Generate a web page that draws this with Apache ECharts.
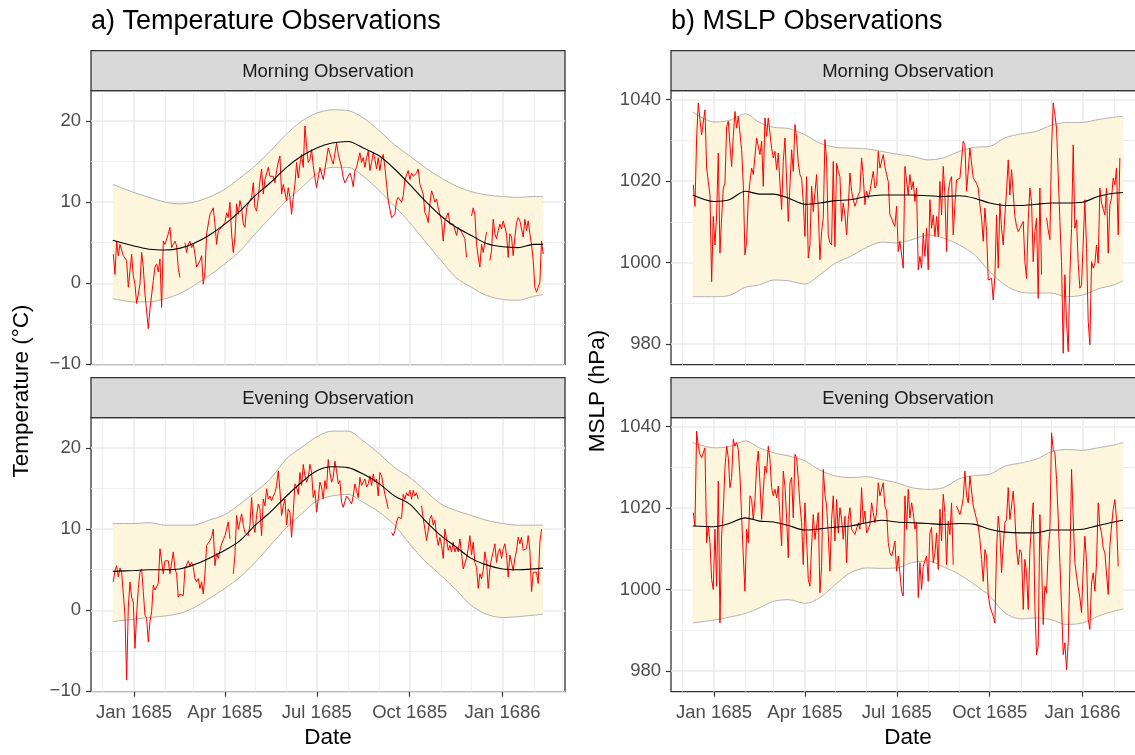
<!DOCTYPE html>
<html>
<head>
<meta charset="utf-8">
<title>Temperature and MSLP observations 1684-1686</title>
<script src="https://cdn.jsdelivr.net/npm/echarts@6/dist/echarts.min.js"></script>
<style>
  html, body { margin: 0; padding: 0; background: #fff; }
  #main { width: 1135px; height: 755px; }
</style>
</head>
<body>
<div id="main"></div>
<script>
// observations: one value every obsStepDays starting at obsStart (null = missing)
const obsStart = '1684-12-11T12:00:00Z';
const obsStepDays = 1.65;

const tempMorning = [
  3.6, 1.1, 5.2, 3.4, 4.8, 4.6, 3.4, 3.6, 2.8, -0.5,
  -0.7, 3.6, 0.9, -0.1, -2.5, -2.7, -0.1, 3.8, 2.0, -1.3,
  -1.5, -5.6, -3.2, -3.0, 0.3, 2.0, 2.4, 1.4, 3.0, -3.0,
  5.2, 4.8, 4.9, 6.1, 6.9, 4.4, 4.8, 5.2, 4.6, 1.8,
  0.7, null, null, 5.0, 3.8, 4.8, 5.2, 4.4, 4.8, 3.6,
  2.0, 1.8, 2.8, 3.4, -0.1, 1.4, 6.1, 6.1, 8.5, 8.9,
  9.3, 7.3, 4.8, 6.5, 6.7, 6.9, 6.7, 7.5, 8.7, 8.1,
  10.0, 6.1, 3.8, 5.7, 9.8, 8.5, 10.2, 9.3, 7.3, 6.9,
  9.3, 9.8, 10.0, 10.6, 12.4, 9.3, 8.9, 10.6, 12.6, 14.1,
  11.0, 12.8, 12.6, 14.3, 13.2, 13.0, 13.2, 12.4, 13.9, 14.9,
  15.7, 11.0, 12.2, 12.0, 10.2, 11.8, 10.6, 8.5, 10.6, 12.2,
  14.9, 13.0, 14.7, 15.9, 14.3, 19.4, 16.9, 14.9, 15.3, 16.5,
  14.5, 13.0, 11.8, 11.6, 14.3, 14.3, 12.8, 14.1, 14.3, 16.7,
  16.9, 15.3, 14.7, 14.5, 17.3, 15.9, 15.7, 14.3, 13.0, 12.4,
  12.2, 13.2, 13.6, 13.0, 11.9, 13.9, 14.3, 14.1, 16.1, 14.9,
  15.5, 14.3, 15.5, 16.3, 13.9, 14.9, 16.1, 15.3, 14.1, 15.5,
  13.9, 15.3, 15.9, 14.3, 12.2, 10.2, 10.0, 8.1, 8.0, 8.5,
  10.2, 10.6, 10.8, 10.0, 10.8, 12.8, 13.0, 13.9, 12.8, 13.6,
  13.2, 13.2, 13.6, 14.1, 12.2, 12.2, 11.0, 8.7, 8.3, 7.5,
  9.8, 11.4, 10.8, 10.0, 10.4, 9.3, 8.5, 7.7, 5.2, 7.7,
  7.7, 8.7, 7.3, 7.5, 7.3, 7.1, 5.9, 6.9, 6.9, 6.3,
  6.1, 5.5, 3.2, null, null, 8.3, 9.3, 8.5, 4.8, 3.2,
  2.0, 4.8, 3.8, 3.8, 6.3, null, 2.8, 4.0, 7.9, 6.1,
  5.5, 6.5, 7.3, 6.7, 7.7, 7.5, 6.1, 3.2, 6.1, 5.7,
  3.4, 5.7, 7.5, 8.1, 7.7, 7.9, 5.7, 7.9, 6.5, 7.7,
  6.1, 4.8, 2.8, -0.5, -1.1, -0.5, 0.1, 5.2, 3.6
];

const tempEvening = [
  3.5, 4.9, 5.5, 4.1, 5.2, 4.7, 4.7, -0.6, -8.6, 0.4,
  3.5, 1.6, 1.0, -4.7, -0.6, 2.7, 4.7, 5.1, 2.3, -0.6,
  -1.0, -3.9, -1.4, -0.2, 3.1, 2.5, 2.3, 3.3, 7.6, 7.4,
  4.5, 6.1, 5.9, 6.1, 4.5, 4.7, 7.2, 5.1, 4.5, 1.6,
  2.0, 1.8, 1.8, 5.1, 5.3, 6.1, 5.5, 5.9, 5.3, 3.9,
  3.5, 3.9, 2.7, 3.5, 2.0, 4.5, 8.0, 8.2, 8.6, 9.0,
  10.0, 5.5, 7.0, 6.4, 7.4, 8.2, 8.0, 9.2, 9.4, 10.9,
  8.8, null, 4.5, 6.8, 11.7, 10.0, 10.9, 11.9, 10.5, 9.6,
  9.8, 9.2, 10.5, 13.9, 10.5, 9.6, 11.7, 13.1, 12.5, 9.2,
  13.7, 12.9, 15.0, 13.7, 14.1, 13.5, 14.1, 14.5, 15.4, 17.2,
  14.8, 11.7, 12.9, 13.7, 10.5, 12.5, 12.1, 9.0, 12.1, 15.6,
  15.2, 14.3, 17.0, 15.4, 18.0, 16.6, 15.8, 16.4, 18.0, 17.0,
  13.9, 14.8, 12.1, 13.7, 15.8, 15.2, 13.7, 16.0, 15.0, 18.6,
  17.0, 15.8, 16.4, 18.4, 17.2, 15.6, 16.0, 13.3, 12.7, 12.9,
  14.1, 14.3, 13.5, 13.1, 14.1, 15.6, 14.8, 13.9, 16.4, 15.4,
  15.4, 16.2, 15.2, 15.6, 16.6, 15.4, 16.8, 15.8, 16.2, 14.1,
  17.0, 16.6, 15.4, 14.3, 13.5, 12.5, null, 9.6, 9.2, 9.8,
  10.9, 11.5, 11.7, 11.3, 14.3, 13.7, 14.5, 14.1, 14.8, 13.7,
  14.8, 14.1, 14.5, 13.7, null, 12.9, 11.3, 10.0, 8.6, 9.8,
  11.3, 11.7, 10.5, 11.1, 9.2, 8.0, 9.0, 8.0, 6.4, 10.0,
  8.8, 7.4, 8.0, 7.2, 8.4, 7.2, 7.8, 7.2, 8.8, 7.0,
  5.1, 4.9, 6.4, 7.6, 9.2, 6.8, 8.4, 5.9, 5.3, 2.7,
  4.5, 3.9, 4.9, 7.2, 5.9, 2.7, 5.1, 6.4, 7.2, 8.2,
  5.9, 7.2, 7.6, 6.4, 7.6, 8.2, 6.8, 4.1, 6.8, 5.9,
  4.9, 6.4, 7.4, 9.0, 8.2, 9.0, 7.4, 7.4, 7.6, 9.2,
  7.4, 2.3, 4.7, 4.7, 4.7, 3.3, 8.4, 10.0
];

const mslpMorning = [
  1019.1, 1013.8, 1030.6, 1039.2, 1035.1, 1031.4, 1031.4, 1037.5, 1023.2, 1019.9,
  1016.6, 995.3, 1011.3, 1004.3, 1011.7, 1026.9, 1002.3, 1010.9, 1018.3, 1019.5,
  1033.4, 1034.7, 1028.9, 1023.6, 1031.0, 1037.1, 1033.0, 1035.9, 1035.5, 1027.7,
  1019.1, 1001.9, 1005.2, 1015.8, 1019.9, 1023.2, 1021.6, 1022.0, 1030.6, 1031.0,
  1026.5, 1029.8, 1018.7, 1035.5, 1031.0, 1035.5, 1031.8, 1028.1, 1025.7, 1027.3,
  1022.8, 1026.9, 1019.5, 1013.0, 1024.8, 1030.6, 1020.3, 1010.1, 1010.5, 1027.7,
  1022.4, 1033.9, 1030.6, 1024.4, 1021.6, 1020.7, 1015.0, 1006.4, 1021.1, 1001.1,
  1004.3, 1018.7, 1012.5, 1012.5, 1021.6, 1013.0, 1000.7, 1007.6, 1010.9, 1030.2,
  1025.2, 1006.8, 1004.8, 1004.3, 1024.8, 1003.9, 1024.4, 1022.4, 1021.1, 1010.1,
  1014.6, 1011.7, 1006.8, 1013.4, 1022.0, 1017.5, 1015.4, 1013.8, 1015.0, 1016.6,
  1017.5, 1025.7, 1021.1, 1014.2, 1017.5, 1015.8, 1017.5, 1017.9, 1022.4, 1018.3,
  1019.1, 1027.3, 1023.2, 1023.2, 1026.5, 1023.6, 1021.6, 1019.9, 1011.7, 1010.9,
  1009.7, 1008.9, 1013.8, 1002.7, 1005.2, 1005.6, 998.6,
  1023.6, 1023.2, 1016.6, 1021.6, 1017.9, 1019.9, 1015.0, 1018.3, 998.2, 1001.5,
  998.6, 1007.2, 1001.5, 1008.4, 998.2, 1015.4, 1008.4, 1011.7, 1006.4, 1011.3,
  1006.4, 1019.9, 1011.7, 1023.6, 1016.6, 1002.7, 1017.5, 1019.9, 1021.1, 1006.8,
  1014.2, 1020.3, 1019.9, 1020.7, 1020.7, 1029.8, 1028.9, 1017.5, 1022.4, 1028.1,
  1028.1, 1020.7, 1020.7, 1019.5, 1018.3, 1014.2, 1010.9, 1005.2, 1013.4, 1007.6,
  995.7, 995.3, 996.1, 990.8, 996.6, 1011.7, 998.6, 1014.6, 1008.4, 1004.3,
  1011.7, 1017.5, 1025.2, 1016.6, 1022.8, 1022.8, 1011.3, 1008.9, 1007.6, 1008.4,
  1008.0, 1010.1, 1000.2, 996.1, 1010.5, 1018.3, 1015.0, 1000.2, 1007.6, 1010.9,
  991.2, 1018.3, 997.0, null, null, 1010.9, 1008.0, 1005.6, 1028.1, 1039.2,
  1036.3, 1033.0, 1021.6, 1010.1, 1000.2, 977.7, 997.0, 985.5, 978.1, 997.0,
  1008.4, 1028.9, 1008.4, 1010.5, 999.8, 993.7, 994.5, 994.5, 1015.4, 1003.5,
  985.5, 979.8, 1000.2, 998.6, 999.8, 1004.3, 999.8, 1018.3, 1014.6, 1015.0,
  1011.7, 1018.3, 1002.3, 1014.2, 1015.8, 1020.7, 1019.1, 1023.2, 1006.8, 1025.7
];

const mslpEvening = [
  1018.9, 1015.6, 1038.9, 1035.2, 1033.2, 1032.4, 1032.8, 1034.8, 1011.5, 1015.6,
  1011.5, 1002.5, 1000.0, 1014.8, 1000.8, 1026.6, 991.8, 1013.5, 1019.3, 1029.9,
  1035.2, 1032.4, 1025.0, 1027.5, 1036.9, 1035.2, 1036.1, 1034.4, 1027.9, 1018.0,
  1008.2, 999.6, 1014.8, 1011.5, 1023.0, 1022.1, 1017.2, 1022.1, 1030.3, 1034.0,
  1026.2, 1017.2, 1024.2, 1030.3, 1028.7, 1035.2, 1032.0, 1025.0, 1023.0, 1024.6,
  1022.5, 1025.4, 1018.0, 1010.7, 1029.1, 1025.4, 1017.6, 1007.8, 1026.2, 1027.5,
  1017.6, 1033.2, 1032.4, 1027.0, 1020.9, 1016.4, 1006.1, 1021.3, 1012.3, 1002.5,
  1000.8, 1010.7, 1018.4, 1012.3, 1015.6, 1018.9, 999.2, 1005.7, 1029.5, 1023.4,
  1020.5, 1013.5, 1004.5, 1017.2, 1023.0, 1011.9, 1022.1, 1013.9, 1020.1, 1017.2,
  1012.3, 1018.0, 1006.6, 1017.2, 1020.1, 1014.8, 1014.8, 1013.5, 1013.9, 1016.4,
  1014.8, 1025.0, 1016.4, 1019.3, 1013.9, 1014.8, 1016.0, 1021.3, 1018.9, 1016.4,
  1018.9, 1026.2, 1023.0, 1023.0, 1026.2, 1020.5, 1019.3, 1011.5, 1009.0, 1008.2,
  1009.8, 1011.9, 1004.5, 1008.2, 1004.1, 999.6, 998.4,
  1023.0, 1014.8, 1024.6, 1017.6, 1021.3, 1018.9, 1014.8, 1016.4, 998.0, 1006.6,
  1000.0, 1005.7, 1005.3, 1008.2, 1002.0, 1013.9, 1015.2, 1006.6, 1009.0, 1013.9,
  1004.9, 1019.7, 1011.9, 1023.4, 1018.9, 1006.1, 1016.8, 1013.5, 1021.3, 1006.1,
  null, 1020.5, 1020.7, 1018.4, 1020.1, 1022.5, 1029.1, 1023.0, 1021.3, 1027.9,
  1027.9, 1020.5, 1018.9, 1017.2, 1015.6, 1012.3, 1007.4, 1002.0, 1009.8, 1008.2,
  998.8, 995.9, 996.3, 993.4, 991.8, 1009.8, 1018.0, 1013.9, 1004.1, 1010.7,
  1016.4, 1017.2, 1025.0, 1017.2, 1020.5, 1024.2, 1018.0, 1009.8, 1006.1, 1009.8,
  1009.0, 995.1, 1007.4, 1004.1, 995.1, 1009.8, 1016.0, 1021.3, 995.9, 984.0,
  986.1, 1018.4, 1006.6, 991.4, 1000.8, 999.2, 1009.8, 1014.3, 1038.5, 1034.4,
  1033.6, 1027.0, 1017.6, 1006.6, 995.9, 984.0, 986.9, 980.3, 986.9, 1005.7,
  1029.5, 1017.6, 1006.6, 1003.3, 1000.4, 998.0, 994.3, 1004.9, 1013.1, 1006.6,
  992.6, 990.2, 1001.6, 1004.1, 999.6, 1006.6, 1021.3, 1015.6, 1013.9, 1010.2,
  1009.0, 1009.4, 998.8, 1010.7, 1015.6, 1019.7, 1022.1, 1017.2, 1005.7
];

// climatology: fitted mean with lower / upper bound
const bandDates = [
  '1684-12-11', '1685-01-01', '1685-01-16', '1685-02-01', '1685-02-15', '1685-03-01',
  '1685-03-16', '1685-04-01', '1685-04-16', '1685-05-01', '1685-05-16', '1685-06-01',
  '1685-06-16', '1685-07-01', '1685-07-16', '1685-08-01', '1685-08-16', '1685-09-01',
  '1685-09-16', '1685-10-01', '1685-10-16', '1685-11-01', '1685-11-16', '1685-12-01',
  '1685-12-16', '1686-01-01', '1686-01-16', '1686-02-01', '1686-02-10'
];

const tempMorningFit = [5.3, 4.6, 4.2, 4.1, 4.3, 4.9, 5.9, 7.3, 8.9, 10.8, 12.4, 14.3, 15.7, 16.7, 17.3, 17.5, 16.7, 15.7, 14.1, 12.2, 10.2, 8.3, 6.9, 5.9, 4.9, 4.5, 4.4, 4.8, 4.8];
const tempMorningLow = [-1.9, -2.3, -2.3, -1.9, -1.3, -0.3, 0.9, 2.4, 4.0, 6.1, 8.1, 10.2, 11.8, 13.5, 14.3, 14.3, 13.2, 11.4, 9.5, 7.5, 5.2, 2.8, 0.7, -0.5, -1.5, -2.0, -2.1, -1.6, -1.4];
const tempMorningHigh = [12.2, 11.2, 10.6, 10.0, 9.8, 10.0, 10.6, 11.6, 13.0, 14.5, 16.3, 18.4, 20.0, 21.0, 21.4, 21.3, 20.4, 18.8, 17.1, 15.7, 14.3, 13.0, 12.0, 11.3, 10.9, 10.7, 10.6, 10.7, 10.7];

const tempEveningFit = [4.8, 4.9, 5.0, 5.0, 5.1, 5.6, 6.4, 7.4, 8.6, 10.5, 12.1, 14.1, 15.8, 17.2, 17.7, 17.6, 16.8, 15.6, 14.1, 13.1, 11.1, 9.2, 7.8, 6.4, 5.6, 5.1, 5.0, 5.1, 5.2];
const tempEveningLow = [-1.4, -1.1, -0.9, -0.7, -0.4, 0.3, 1.4, 2.7, 4.1, 5.9, 8.0, 10.2, 11.9, 13.5, 14.1, 14.3, 13.3, 12.1, 10.5, 8.2, 6.1, 4.3, 2.5, 0.6, -0.5, -0.9, -0.8, -0.6, -0.5];
const tempEveningHigh = [10.7, 10.7, 10.8, 10.5, 10.5, 10.5, 11.1, 11.8, 13.1, 14.6, 16.2, 18.7, 20.1, 21.4, 22.1, 22.1, 20.9, 19.3, 17.6, 16.4, 14.8, 13.1, 12.3, 11.7, 11.1, 10.7, 10.5, 10.5, 10.5];

const mslpMorningFit = [1016.6, 1015.0, 1015.4, 1017.5, 1016.8, 1016.8, 1015.8, 1014.3, 1014.6, 1015.2, 1015.4, 1016.2, 1016.6, 1016.6, 1016.6, 1016.4, 1016.2, 1016.4, 1015.8, 1014.6, 1014.0, 1014.0, 1014.3, 1014.6, 1014.6, 1014.8, 1016.2, 1017.0, 1017.2];
const mslpMorningLow = [991.6, 991.6, 991.9, 993.9, 994.5, 995.7, 995.5, 994.7, 997.0, 999.8, 1001.5, 1003.7, 1005.0, 1004.8, 1005.6, 1006.8, 1006.0, 1004.3, 1001.9, 997.8, 994.5, 992.7, 992.5, 992.5, 991.6, 992.0, 993.5, 994.5, 995.5];
const mslpMorningHigh = [1037.0, 1034.5, 1034.9, 1036.5, 1034.4, 1033.2, 1032.9, 1031.4, 1029.3, 1028.3, 1028.1, 1027.9, 1027.3, 1026.6, 1026.1, 1025.2, 1025.7, 1027.3, 1028.3, 1028.5, 1030.6, 1031.6, 1032.2, 1033.7, 1034.4, 1034.4, 1035.1, 1035.7, 1035.9];

const mslpEveningFit = [1015.6, 1015.4, 1016.2, 1017.6, 1016.8, 1016.6, 1015.7, 1014.6, 1014.9, 1015.3, 1015.6, 1016.4, 1017.0, 1016.6, 1016.4, 1016.2, 1016.0, 1016.2, 1016.0, 1014.8, 1014.1, 1013.9, 1013.9, 1014.6, 1014.6, 1014.8, 1015.7, 1016.6, 1017.0];
const mslpEveningLow = [991.8, 992.5, 993.2, 994.1, 995.5, 997.1, 997.5, 996.6, 998.0, 1001.2, 1004.1, 1005.3, 1005.2, 1005.3, 1006.6, 1007.0, 1005.6, 1003.7, 1001.2, 998.4, 994.3, 992.8, 993.0, 992.6, 991.4, 991.8, 993.4, 994.7, 995.2];
const mslpEveningHigh = [1036.1, 1034.8, 1035.1, 1036.5, 1034.8, 1033.6, 1032.8, 1031.6, 1029.3, 1027.9, 1027.5, 1027.7, 1027.0, 1026.2, 1025.0, 1024.6, 1025.0, 1027.2, 1028.0, 1028.3, 1030.3, 1031.1, 1032.0, 1033.8, 1034.4, 1034.2, 1034.8, 1035.5, 1036.1];

// axis breaks
const majorDates = ['1685-01-01', '1685-04-01', '1685-07-01', '1685-10-01', '1686-01-01'];
const minorDates = ['1684-12-01', '1685-02-01', '1685-03-01', '1685-05-01', '1685-06-01', '1685-08-01',
  '1685-09-01', '1685-11-01', '1685-12-01', '1686-02-01', '1686-03-01'];
const tempTicks = [-10, 0, 10, 20];
const tempMinor = [-5, 5, 15];
const mslpTicks = [980, 1000, 1020, 1040];
const mslpMinor = [990, 1010, 1030];

const FONT = '"Liberation Sans", Arial, Helvetica, sans-serif';
const DAY = 24 * 3600 * 1000;
const MONTHS = ['Jan', 'Feb', 'Mar', 'Apr', 'May', 'Jun', 'Jul', 'Aug', 'Sep', 'Oct', 'Nov', 'Dec'];
const utc = (s) => Date.parse(s + 'T00:00:00Z');
const t0 = Date.parse(obsStart);
const xMin = Date.UTC(1684, 10, 19, 10);
const xMax = Date.UTC(1686, 2, 3, 19);

const PW = 474;
const PH = 274;
const STRIP = 40;

const fmtMonth = (v) => {
  const d = new Date(v);
  return MONTHS[d.getUTCMonth()] + ' ' + d.getUTCFullYear();
};
const fmtNum = (v) => (v < 0 ? '\u2212' + Math.abs(v) : String(v));

const temp = { min: -10.05, max: 23.76, ticks: tempTicks, minor: tempMinor };
const mslp = { min: 974.9, max: 1042.2, ticks: mslpTicks, minor: mslpMinor };

const panels = [
  { strip: 'Morning Observation', left: 91, top: 90.7, y: temp, bottom: false,
    obs: tempMorning, fit: tempMorningFit, low: tempMorningLow, high: tempMorningHigh },
  { strip: 'Evening Observation', left: 91, top: 417.7, y: temp, bottom: true,
    obs: tempEvening, fit: tempEveningFit, low: tempEveningLow, high: tempEveningHigh },
  { strip: 'Morning Observation', left: 671, top: 90.7, y: mslp, bottom: false,
    obs: mslpMorning, fit: mslpMorningFit, low: mslpMorningLow, high: mslpMorningHigh },
  { strip: 'Evening Observation', left: 671, top: 417.7, y: mslp, bottom: true,
    obs: mslpEvening, fit: mslpEveningFit, low: mslpEveningLow, high: mslpEveningHigh },
];

const grids = [];
const xAxes = [];
const yAxes = [];
const series = [];
const graphics = [];

const majorX = majorDates.map(utc);
const minorX = minorDates.map(utc);
const bandX = bandDates.map(utc);

panels.forEach((p, i) => {
  grids.push({
    left: p.left, top: p.top, width: PW, height: PH,
    show: true, backgroundColor: '#ffffff', borderColor: '#333333', borderWidth: 1.3,
    outerBoundsMode: 'none',
  });

  xAxes.push({
    type: 'value', gridIndex: i, min: xMin, max: xMax, position: 'bottom',
    axisLine: { show: false, onZero: false },
    axisTick: { show: p.bottom, customValues: majorX, length: 5, lineStyle: { color: '#333333', width: 1.2 } },
    axisLabel: { show: p.bottom, customValues: majorX, formatter: fmtMonth, color: '#4D4D4D', fontSize: 18.5, fontFamily: FONT, margin: 12 },
    splitLine: { show: true, lineStyle: { color: '#EBEBEB', width: 1.6 } },
  });
  xAxes.push({
    type: 'value', gridIndex: i, min: xMin, max: xMax, position: 'top',
    axisLine: { show: false, onZero: false },
    axisTick: { show: false, customValues: minorX },
    axisLabel: { show: false },
    splitLine: { show: true, lineStyle: { color: '#EBEBEB', width: 0.8 } },
  });

  yAxes.push({
    type: 'value', gridIndex: i, min: p.y.min, max: p.y.max, position: 'left',
    axisLine: { show: false, onZero: false },
    axisTick: { show: true, customValues: p.y.ticks, length: 5, lineStyle: { color: '#333333', width: 1.2 } },
    axisLabel: { customValues: p.y.ticks, formatter: fmtNum, color: '#4D4D4D', fontSize: 18.5, fontFamily: FONT, margin: 10 },
    splitLine: { show: true, lineStyle: { color: '#EBEBEB', width: 1.6 } },
  });
  yAxes.push({
    type: 'value', gridIndex: i, min: p.y.min, max: p.y.max, position: 'right',
    axisLine: { show: false, onZero: false },
    axisTick: { show: false, customValues: p.y.minor },
    axisLabel: { show: false },
    splitLine: { show: true, lineStyle: { color: '#EBEBEB', width: 0.8 } },
  });

  const xi = 2 * i;
  const yi = 2 * i;
  const edge = { color: '#A9A9A9', width: 0.9 };

  // ribbon fill between the lower and upper bound
  series.push({
    type: 'custom', xAxisIndex: xi, yAxisIndex: yi, silent: true, z: 1,
    data: bandX.map((t, k) => [t, p.low[k], p.high[k]]),
    encode: { x: 0, y: [1, 2] },
    renderItem: (params, api) => {
      if (params.dataIndex !== 0) return null;
      const upper = bandX.map((t, k) => api.coord([t, p.high[k]]));
      const lower = bandX.map((t, k) => api.coord([t, p.low[k]])).reverse();
      return {
        type: 'polygon',
        shape: { points: upper.concat(lower) },
        style: { fill: '#FDF6DC', stroke: null },
      };
    },
  });
  series.push({
    type: 'line', xAxisIndex: xi, yAxisIndex: yi,
    data: bandX.map((t, k) => [t, p.low[k]]),
    symbol: 'none', smooth: 0.3, lineStyle: edge, silent: true, z: 2,
  });
  series.push({
    type: 'line', xAxisIndex: xi, yAxisIndex: yi,
    data: bandX.map((t, k) => [t, p.high[k]]),
    symbol: 'none', smooth: 0.3, lineStyle: edge, silent: true, z: 2,
  });
  series.push({
    type: 'line', xAxisIndex: xi, yAxisIndex: yi,
    data: p.obs.map((v, k) => [t0 + k * obsStepDays * DAY, v == null ? '-' : v]),
    symbol: 'none', connectNulls: false,
    lineStyle: { color: '#FF0000', width: 1 }, silent: true, z: 3,
  });
  series.push({
    type: 'line', xAxisIndex: xi, yAxisIndex: yi,
    data: bandX.map((t, k) => [t, p.fit[k]]),
    symbol: 'none', smooth: 0.3,
    lineStyle: { color: '#000000', width: 1.1 }, silent: true, z: 4,
  });

  // facet strip
  graphics.push({
    type: 'rect', z: 100,
    shape: { x: p.left, y: p.top - STRIP, width: PW, height: STRIP },
    style: { fill: '#D9D9D9', stroke: '#333333', lineWidth: 1.3 },
  });
  graphics.push({
    type: 'text', z: 101, x: p.left + PW / 2, y: p.top - STRIP / 2 + 1,
    style: { text: p.strip, fontSize: 18.5, fontFamily: FONT, fill: '#1A1A1A', align: 'center', verticalAlign: 'middle' },
  });
});

const label = (text, x, y, size, align, rotation) => ({
  type: 'text', z: 101, x, y, rotation: rotation || 0,
  style: { text, fontSize: size, fontFamily: FONT, fill: '#000000', align: align || 'center', verticalAlign: 'middle' },
});

graphics.push(label('a) Temperature Observations', 91, 22, 27, 'left'));
graphics.push(label('b) MSLP Observations', 671, 22, 27, 'left'));
graphics.push(label('Temperature (\u00B0C)', 22, 391, 22.5, 'center', Math.PI / 2));
graphics.push(label('MSLP (hPa)', 598, 391, 22.5, 'center', Math.PI / 2));
graphics.push(label('Date', 91 + PW / 2, 738, 22.5));
graphics.push(label('Date', 671 + PW / 2, 738, 22.5));

const chart = echarts.init(document.getElementById('main'));
chart.setOption({
  animation: false,
  backgroundColor: '#ffffff',
  textStyle: { fontFamily: FONT },
  grid: grids,
  xAxis: xAxes,
  yAxis: yAxes,
  series: series,
  graphic: { elements: graphics },
});
</script>
</body>
</html>
